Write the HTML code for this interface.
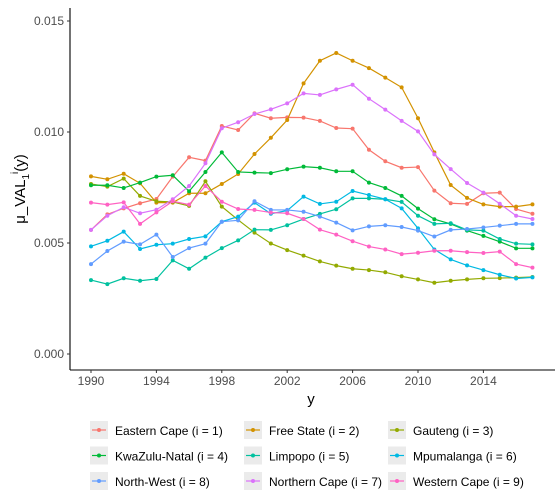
<!DOCTYPE html>
<html><head><meta charset="utf-8"><style>
body{margin:0;background:#fff;}
svg{display:block;font-family:"Liberation Sans",sans-serif;}
</style></head><body>
<svg id="chart" width="560" height="500" xmlns="http://www.w3.org/2000/svg"></svg>
<script>
const years = [1990,1991,1992,1993,1994,1995,1996,1997,1998,1999,2000,2001,2002,2003,2004,2005,2006,2007,2008,2009,2010,2011,2012,2013,2014,2015,2016,2017];
const seriesNames = ["Eastern Cape (i = 1)","Free State (i = 2)","Gauteng (i = 3)","KwaZulu-Natal (i = 4)","Limpopo (i = 5)","Mpumalanga (i = 6)","North-West (i = 8)","Northern Cape (i = 7)","Western Cape (i = 9)"];
const easternCape = [0.00559,0.00629,0.00656,0.00679,0.00698,0.00799,0.00886,0.00871,0.01027,0.01009,0.01084,0.01062,0.01066,0.01065,0.0105,0.01018,0.01015,0.0092,0.00868,0.00839,0.00842,0.00736,0.00679,0.00676,0.00724,0.00727,0.00653,0.00632];
const freeState = [0.0080,0.00787,0.00812,0.00769,0.00682,0.00682,0.00724,0.00724,0.00766,0.00811,0.00901,0.00974,0.01054,0.01219,0.01321,0.01356,0.01321,0.01288,0.01245,0.01201,0.01062,0.00908,0.00761,0.00703,0.00674,0.00664,0.00664,0.00674];
const gauteng = [0.00766,0.00754,0.0079,0.00712,0.00688,0.00685,0.00667,0.00778,0.00664,0.00604,0.00547,0.00498,0.00468,0.00443,0.00417,0.00398,0.00384,0.00378,0.00368,0.0035,0.00336,0.00321,0.0033,0.00336,0.00341,0.00342,0.00344,0.00347];
const kwazuluNatal = [0.0076,0.0076,0.00748,0.00772,0.00799,0.00805,0.00733,0.0082,0.00908,0.0082,0.00817,0.00815,0.00832,0.00844,0.00839,0.00823,0.00823,0.00772,0.00748,0.00712,0.00655,0.00607,0.00586,0.00556,0.00532,0.00506,0.00476,0.00476];
const limpopo = [0.00333,0.00315,0.00341,0.0033,0.00338,0.00422,0.00384,0.00434,0.00477,0.00512,0.0056,0.00559,0.0058,0.00608,0.00631,0.00652,0.00701,0.00701,0.00697,0.00685,0.00623,0.00586,0.00589,0.00559,0.00556,0.00518,0.00497,0.00494];
const mpumalanga = [0.00485,0.0051,0.00551,0.00473,0.00492,0.00497,0.00518,0.0053,0.00596,0.00619,0.00682,0.00632,0.00646,0.00709,0.00676,0.00686,0.00734,0.00716,0.00697,0.00656,0.00566,0.00471,0.00426,0.00399,0.00378,0.00357,0.0034,0.00345];
const northWest = [0.00405,0.00464,0.00506,0.00494,0.00538,0.00437,0.00477,0.00497,0.00596,0.00602,0.00688,0.00649,0.00649,0.00641,0.00619,0.00592,0.00557,0.00575,0.0058,0.00572,0.00556,0.00529,0.00559,0.00563,0.0057,0.00578,0.00586,0.00586];
const northernCape = [0.00559,0.00623,0.00661,0.00634,0.0065,0.00697,0.00757,0.00859,0.01017,0.01044,0.01081,0.01102,0.01129,0.01174,0.01167,0.01192,0.01213,0.0115,0.01101,0.0105,0.01003,0.00899,0.00833,0.0077,0.00727,0.00677,0.00623,0.00608];
const westernCape = [0.00682,0.00673,0.00683,0.00586,0.00638,0.00688,0.00673,0.00757,0.00686,0.00653,0.00649,0.00637,0.00634,0.00608,0.0056,0.00538,0.00508,0.00484,0.00471,0.0045,0.00456,0.00465,0.00465,0.00459,0.00455,0.00461,0.00405,0.00389];
const yTicks = [0,0.005,0.010,0.015];
const yTickLabels = ["0.000","0.005","0.010","0.015"];
const xTicks = [1990,1994,1998,2002,2006,2010,2014];

const allSeries = [easternCape,freeState,gauteng,kwazuluNatal,limpopo,mpumalanga,northWest,northernCape,westernCape];
const colors = ["#F8766D","#D39200","#93AA00","#00BA38","#00C19F","#00B9E3","#619CFF","#DB72FB","#FF61C3"];
const slugs = ["eastern-cape","free-state","gauteng","kwazulu-natal","limpopo","mpumalanga","north-west","northern-cape","western-cape"];
const NS="http://www.w3.org/2000/svg";
const svg=document.getElementById('chart');
const X=v=>91+(v-1990)*16.35;
const Y=v=>354-v*(111/0.005);
function mk(tag,attrs,parent){const e=document.createElementNS(NS,tag);for(const k in attrs)e.setAttribute(k,attrs[k]);(parent||svg).appendChild(e);return e;}

let ax=mk('line',{x1:70,y1:8,x2:70,y2:370,stroke:'#000','stroke-width':1.1});


ax=mk('line',{x1:70,y1:370,x2:555,y2:370,stroke:'#000','stroke-width':1.1});


yTicks.forEach((t,i)=>{
  mk('line',{x1:67,x2:70,y1:Y(t),y2:Y(t),stroke:'#333'});
  const tx=mk('text',{x:64,y:Y(t)+4,'text-anchor':'end','font-size':12,fill:'#4d4d4d'});
  tx.textContent=yTickLabels[i];
  
  
});
xTicks.forEach(t=>{
  mk('line',{x1:X(t),x2:X(t),y1:370,y2:373,stroke:'#333'});
  const tx=mk('text',{x:X(t),y:385,'text-anchor':'middle','font-size':12,fill:'#4d4d4d'});
  tx.textContent=t;
  
  
});
let t=mk('text',{x:311,y:404,'text-anchor':'middle','font-size':15,fill:'#000'});
t.textContent='y';


t=mk('text',{transform:'translate(25,189) rotate(-90)','text-anchor':'middle','font-size':15,fill:'#000'});
t.innerHTML='μ_VAL<tspan font-size="10" dy="4">1</tspan><tspan font-size="10" dy="-11">i</tspan><tspan dy="7">(y)</tspan>';



allSeries.forEach((s,k)=>{
  const g=mk('g',{});
  
  
  const pl=mk('polyline',{points:s.map((v,i)=>X(years[i])+','+Y(v)).join(' '),fill:'none',stroke:colors[k],'stroke-width':1.2},g);
  
  
  s.forEach((v,i)=>{
    const c=mk('circle',{cx:X(years[i]),cy:Y(v),r:2,fill:colors[k]},g);
    
    
  });
});

const colX=[90,244,388];
seriesNames.forEach((n,k)=>{
  const col=k%3,row=Math.floor(k/3);
  const x=colX[col],y=421+row*25.5;
  const g=mk('g',{});
  
  
  mk('rect',{x:x,y:y,width:18,height:18,fill:'#ebebeb'},g);
  mk('line',{x1:x+2,x2:x+16,y1:y+9,y2:y+9,stroke:colors[k],'stroke-width':1.2},g);
  mk('circle',{cx:x+9,cy:y+9,r:2,fill:colors[k]},g);
  const tx=mk('text',{x:x+25,y:y+14,'font-size':12,fill:'#000'},g);
  tx.textContent=n;
});
</script>
</body></html>
